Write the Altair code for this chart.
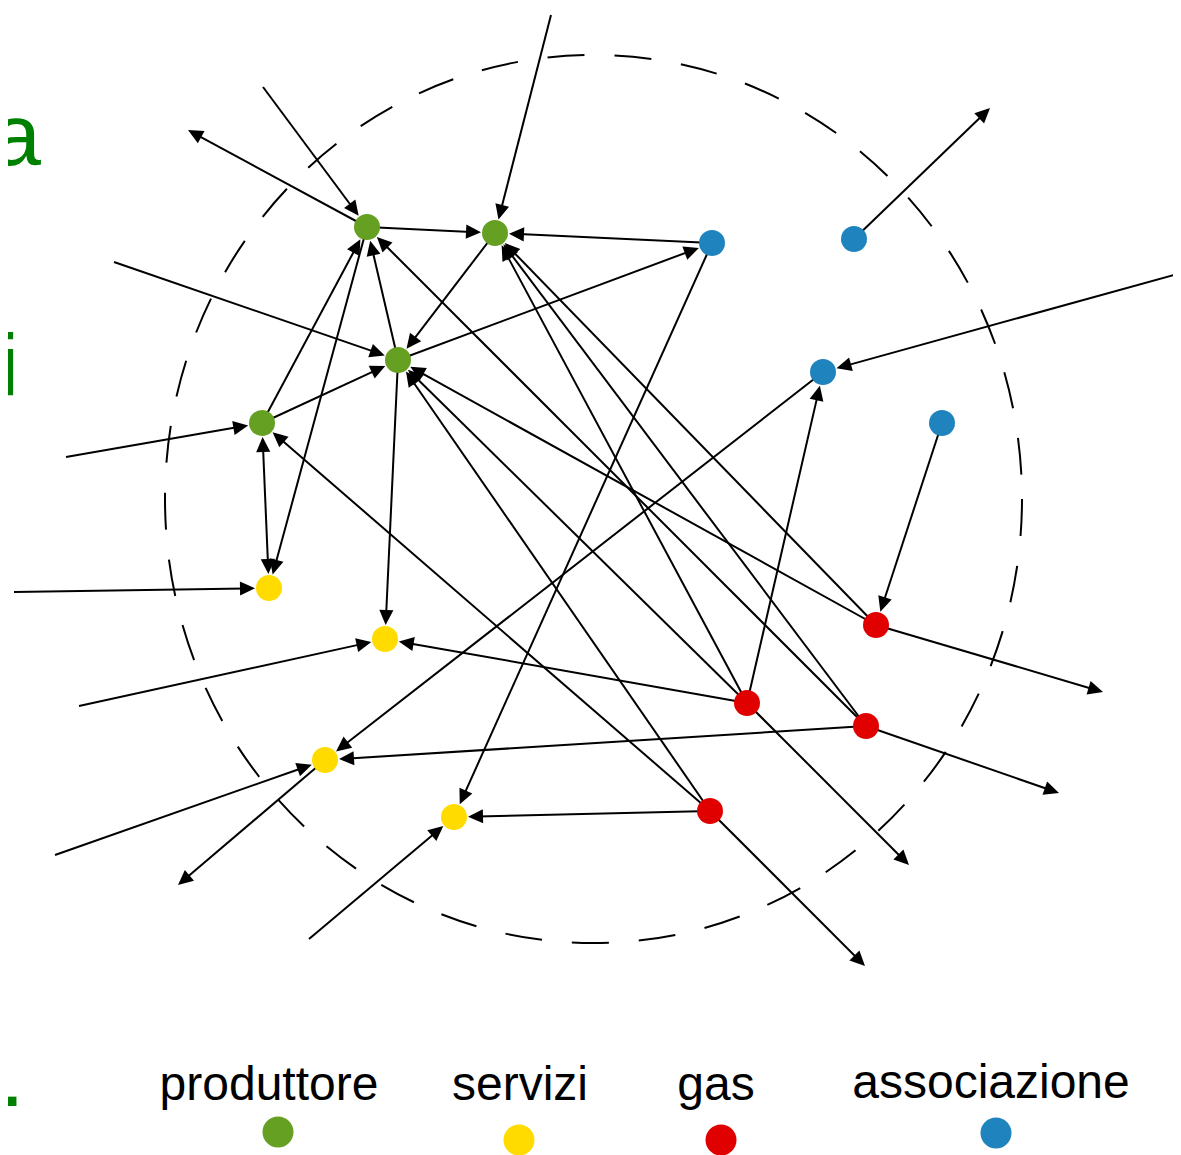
import math
import altair as alt
import pandas as pd

# ---------------- data ----------------
node_names = ["G1", "G2", "G3", "G4", "Y1", "Y2", "Y3", "Y4",
              "R1", "R2", "R3", "R4", "B1", "B2", "B3", "B4"]
node_x = [367, 495, 398, 262, 269, 385, 325, 454, 876, 747, 866, 710, 712, 854, 823, 942]
node_y = [227, 233, 360, 423, 588, 639, 760, 817, 625, 703, 726, 811, 243, 239, 372, 423]
node_cat = ["produttore"] * 4 + ["servizi"] * 4 + ["gas"] * 4 + ["associazione"] * 4

ext_names = ["E1", "E2", "E3", "E4", "E5", "E6", "E7", "E8",
             "E9", "E10", "E11", "E12", "E13", "E14", "E15", "E16"]
ext_x = [263, 188, 551, 114, 66, 14, 79, 55, 178, 309, 990, 1181, 1103, 1059, 909, 865]
ext_y = [87, 130, 15, 262, 457, 592, 706, 855, 885, 939, 108, 273, 692, 793, 865, 966]

edge_from = ["E1", "G1", "E3", "E4", "E5", "E6", "E7", "E8", "Y3", "E10", "B2", "E12",
             "R1", "R3", "R2", "R4",
             "G1", "B1", "G2", "G3", "G1", "G4", "G4", "G4", "G3", "G3", "B1", "B3",
             "R2", "R2", "R1", "R2", "R3", "R3", "R1", "R2", "R4", "R4", "R4", "R3", "B4"]
edge_to = ["G1", "E2", "G2", "G3", "G4", "Y1", "Y2", "Y3", "E9", "Y4", "E11", "B3",
           "E13", "E14", "E15", "E16",
           "G2", "G2", "G3", "G1", "Y1", "G1", "G3", "Y1", "B1", "Y2", "Y4", "Y3",
           "B3", "Y2", "G2", "G2", "G2", "G1", "G3", "G3", "G3", "G4", "Y4", "Y3", "R1"]
edge_both = [False] * 23 + [True] + [False] * 17

categories = ["produttore", "servizi", "gas", "associazione"]
cat_colors = ["#66a022", "#ffdb00", "#e00000", "#1f84bd"]

side_chars = ["a", "i", "."]

# ---------------- layout ----------------
W, H = 1165, 1147
X0, Y0 = 8, 8
R_NODE = 13
HEAD = 15

legend_text_x = [269, 520, 716, 991]
legend_text_y = [1100, 1100, 1100, 1098]
legend_dot_x = [278, 519, 721, 996]
legend_dot_y = [1132, 1140, 1140, 1133]

side_x = [41, 19, 24.5]
side_y = [165, 395, 1106]

circle_cx, circle_cy, circle_rx, circle_ry = 593.5, 499, 428.5, 444

# ---------------- derived geometry ----------------
coords = {}
for n, x, y in zip(node_names, node_x, node_y):
    coords[n] = (x, y)
for n, x, y in zip(ext_names, ext_x, ext_y):
    coords[n] = (x, y)
is_node = set(node_names)

line_rows, head_rows = [], []
for f, t, both in zip(edge_from, edge_to, edge_both):
    xa, ya = coords[f]
    xb, yb = coords[t]
    dx, dy = xb - xa, yb - ya
    L = math.hypot(dx, dy)
    ux, uy = dx / L, dy / L
    off_t = R_NODE + 1 if t in is_node else 0
    tx, ty = xb - ux * off_t, yb - uy * off_t
    ang = math.degrees(math.atan2(ux, -uy)) % 360
    head_rows.append({"x": tx, "y": ty, "angle": ang})
    ex, ey = tx - ux * (HEAD - 5), ty - uy * (HEAD - 5)
    if both:
        off_s = R_NODE + 1 if f in is_node else 0
        sx, sy = xa + ux * off_s, ya + uy * off_s
        head_rows.append({"x": sx, "y": sy, "angle": (ang + 180) % 360})
        bx, by = sx + ux * (HEAD - 5), sy + uy * (HEAD - 5)
    else:
        bx, by = xa, ya
    line_rows.append({"x": bx, "y": by, "x2": ex, "y2": ey})

df_lines = pd.DataFrame(line_rows)
df_heads = pd.DataFrame(head_rows)
df_nodes = pd.DataFrame({"x": node_x, "y": node_y, "cat": node_cat})
df_leg_text = pd.DataFrame({"x": legend_text_x, "y": legend_text_y, "label": categories})
df_leg_dot = pd.DataFrame({"x": legend_dot_x, "y": legend_dot_y, "cat": categories})
df_side = pd.DataFrame({"x": side_x, "y": side_y, "t": side_chars})
df_circle = pd.DataFrame({"x": [circle_cx], "y": [circle_cy]})

xs = alt.Scale(domain=[X0, X0 + W], nice=False, zero=False)
ys = alt.Scale(domain=[Y0, Y0 + H], nice=False, zero=False, reverse=True)
X = lambda f: alt.X(f, type="quantitative", scale=xs, axis=None)
Y = lambda f: alt.Y(f, type="quantitative", scale=ys, axis=None)
col = alt.Color("cat:N", scale=alt.Scale(domain=categories, range=cat_colors), legend=None)

ARROW = "M0,0 L0.47,1 L-0.47,1 Z"
a = circle_rx / circle_ry
k = 0.5523
ELLIPSE = (f"M{a},0 C{a},{k} {k*a},1 0,1 C{-k*a},1 {-a},{k} {-a},0 "
           f"C{-a},{-k} {-k*a},-1 0,-1 C{k*a},-1 {a},{-k} {a},0 Z")

circle = alt.Chart(df_circle).mark_point(
    shape=ELLIPSE, size=(2 * circle_ry) ** 2, filled=False, stroke="black",
    strokeWidth=2, strokeDash=[37, 30], opacity=1
).encode(x=X("x"), y=Y("y"))

lines = alt.Chart(df_lines).mark_rule(color="black", strokeWidth=2).encode(
    x=X("x"), y=Y("y"), x2="x2:Q", y2="y2:Q")

heads = alt.Chart(df_heads).mark_point(
    shape=ARROW, size=(2 * HEAD) ** 2, filled=True, fill="black", strokeWidth=0, opacity=1
).encode(x=X("x"), y=Y("y"), angle=alt.Angle("angle:Q", scale=None))

nodes = alt.Chart(df_nodes).mark_circle(size=26 ** 2, opacity=1).encode(
    x=X("x"), y=Y("y"), color=col)

leg_text = alt.Chart(df_leg_text).mark_text(
    font="Liberation Sans", fontSize=48, align="center", baseline="alphabetic", color="black"
).encode(x=X("x"), y=Y("y"), text="label:N")

leg_dot = alt.Chart(df_leg_dot).mark_circle(size=31 ** 2, opacity=1).encode(
    x=X("x"), y=Y("y"), color=col)

side = alt.Chart(df_side).mark_text(
    font="Liberation Sans", fontSize=88, align="right", baseline="alphabetic", color="#008000"
).encode(x=X("x"), y=Y("y"), text="t:N")

chart = alt.layer(circle, lines, heads, nodes, leg_text, leg_dot, side).properties(
    width=W, height=H, autosize=alt.AutoSizeParams(type="none"), padding=0,
    background="white"
).configure_view(stroke=None)

chart.save("out.html", embed_options={"renderer": "svg", "actions": False})
